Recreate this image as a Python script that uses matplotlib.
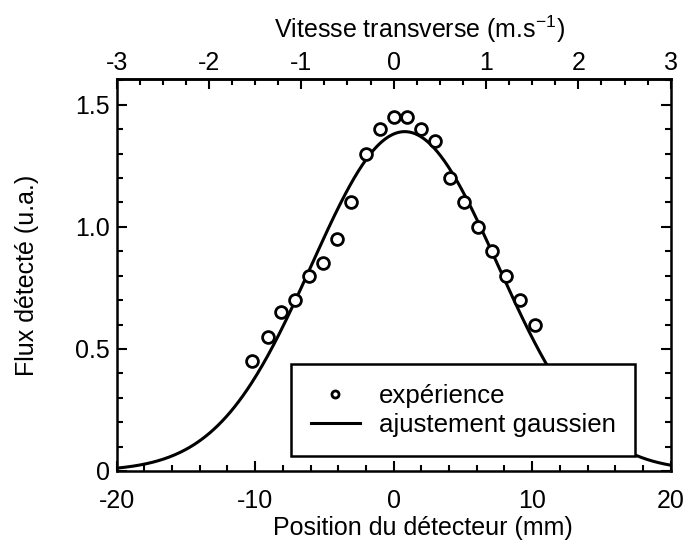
import numpy as np
import matplotlib.pyplot as plt
from matplotlib.ticker import MultipleLocator

plt.rcParams["font.family"] = ["Liberation Sans", "DejaVu Sans"]
plt.rcParams["mathtext.fontset"] = "custom"
plt.rcParams["mathtext.rm"] = "Liberation Sans"
plt.rcParams["axes.unicode_minus"] = False

# Experimental points: detector position (mm) and detected flux (a.u.)
position_mm = [-10.2, -9.1, -8.1, -7.1, -6.1, -5.1, -4.1, -3.1, -2.0, -1.0, 0.0,
               1.0, 2.0, 3.0, 4.1, 5.1, 6.1, 7.1, 8.1, 9.1, 10.2]
flux = [0.45, 0.55, 0.65, 0.70, 0.80, 0.85, 0.95, 1.10, 1.30, 1.40, 1.45,
        1.45, 1.40, 1.35, 1.20, 1.10, 1.00, 0.90, 0.80, 0.70, 0.60]

# Gaussian fit parameters
FIT_AMPLITUDE = 1.39
FIT_CENTER = 0.8
FIT_SIGMA = 6.73

# mm -> m/s conversion for the top axis (20 mm <-> 3 m/s)
MM_TO_VELOCITY = 3.0 / 20.0
velocity_ticks = [-3, -2, -1, 0, 1, 2, 3]

x_fit = np.linspace(-20, 20, 400)
y_fit = FIT_AMPLITUDE * np.exp(-(x_fit - FIT_CENTER) ** 2 / (2 * FIT_SIGMA ** 2))

fig = plt.figure(figsize=(6.9, 5.42), dpi=100)
ax = fig.add_axes([0.169, 0.131, 0.803, 0.723])

ax.plot(position_mm, flux, linestyle="none", marker="o", markersize=8.5,
        markerfacecolor="white", markeredgecolor="black", markeredgewidth=2.0,
        label="expérience", zorder=3)
ax.plot(x_fit, y_fit, color="black", linewidth=2.2, label="ajustement gaussien", zorder=2)

ax.set_xlim(-20, 20)
ax.set_ylim(0, 1.605)

ax.xaxis.set_major_locator(MultipleLocator(10))
ax.xaxis.set_minor_locator(MultipleLocator(2))
ax.set_yticks([0, 0.5, 1.0, 1.5])
ax.set_yticklabels(["0", "0.5", "1.0", "1.5"])
ax.yaxis.set_minor_locator(MultipleLocator(0.1))

ax.tick_params(which="both", direction="in", top=False, right=True, width=1.5,
               labelsize=18, colors="black")
ax.tick_params(axis="x", which="both", pad=13)
ax.tick_params(axis="y", which="both", pad=5)
ax.tick_params(which="major", length=7)
ax.tick_params(which="minor", length=4.5)

for spine in ax.spines.values():
    spine.set_linewidth(1.8)

ax.set_xlabel("Position du détecteur (mm)", fontsize=18, labelpad=2)
ax.xaxis.label.set_x(0.553)
ax.set_ylabel("Flux détecté (u.a.)", fontsize=18)
ax.yaxis.set_label_coords(-0.14, 0.5)

top = ax.secondary_xaxis("top", functions=(lambda x: x * MM_TO_VELOCITY,
                                           lambda v: v / MM_TO_VELOCITY))
top.set_xticks(velocity_ticks)
top.set_xticklabels([str(v) for v in velocity_ticks])
top.xaxis.set_minor_locator(MultipleLocator(0.25))
top.tick_params(which="both", direction="in", width=1.5, labelsize=18, pad=3)
top.tick_params(which="major", length=7)
top.tick_params(which="minor", length=4.5)
top.spines["top"].set_linewidth(1.8)
top.set_xlabel("Vitesse transverse (m.s$^{\\mathrm{-1}}$)", fontsize=18, labelpad=9)
top.xaxis.label.set_x(0.547)

leg = ax.legend(loc="lower left", bbox_to_anchor=(0.315, 0.038), fontsize=18.6,
                frameon=True, fancybox=False, framealpha=1, edgecolor="black",
                borderpad=0.75, handlelength=1.9, handletextpad=0.75,
                labelspacing=0.2, markerscale=0.6, borderaxespad=0)
leg.get_frame().set_linewidth(1.8)
leg.set_zorder(5)

fig.savefig("out.png", dpi=100)
